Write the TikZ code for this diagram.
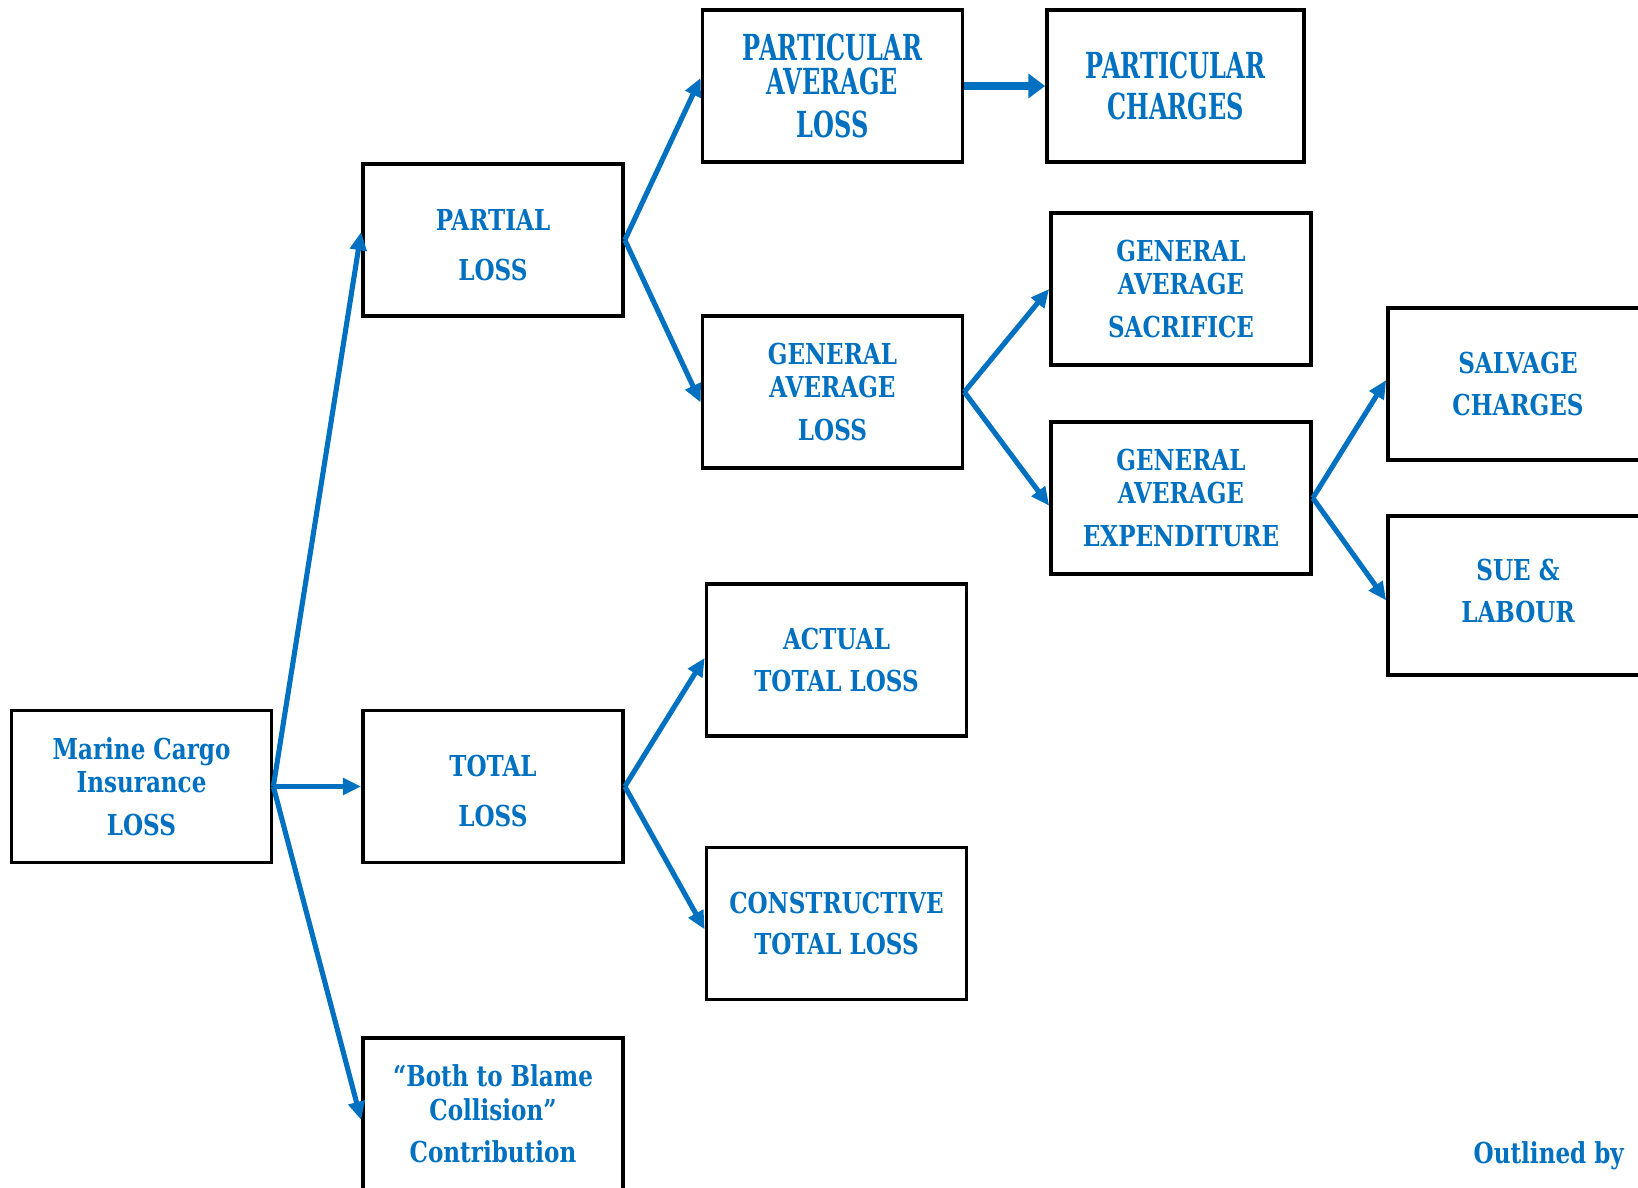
\documentclass[tikz,border=0pt]{standalone}
\usepackage{fontspec}
\setmainfont{DejaVu Serif}[FakeStretch=0.8]
\newfontfamily\tallfont{DejaVu Serif}[FakeStretch=0.67]
\usetikzlibrary{arrows.meta}
\definecolor{lossblue}{RGB}{0,112,192}

\tikzset{
	lossbox/.style={draw=black, line width=1pt, minimum width=2.6cm, minimum height=1.52cm,
		inner sep=0pt, align=center, text=lossblue, font=\bfseries\fontsize{8.2}{9.5}\selectfont},
	tallbox/.style={lossbox, font=\tallfont\bfseries\fontsize{10.2}{9.5}\selectfont},
	lossarrow/.style={draw=lossblue, line width=1.45pt, -{Triangle[length=5.2pt,width=4.6pt]}},
}

\begin{document}
\begin{tikzpicture}[x=0.01cm, y=-0.01cm]
		\useasboundingbox (0,0) rectangle (1638,1188);
		
		% root
		\node[lossbox] (marine) at (141.5,786.5) {Marine Cargo\\Insurance\\[2.7pt]LOSS};
		
		% first level
		\node[lossbox] (partial) at (493,240) {\rule{0pt}{8.7pt}PARTIAL\\[4.7pt]LOSS};
		\node[lossbox] (total) at (493,786.5) {\rule{0pt}{8.7pt}TOTAL\\[4.7pt]LOSS};
		\node[lossbox] (blame) at (493,1114) {“Both to Blame\\Collision”\\[2.7pt]Contribution};
		
		% partial loss branch
		\node[tallbox] (pal) at (832.5,86) {PARTICULAR\\AVERAGE\\[2.7pt]LOSS};
		\node[tallbox, minimum width=2.57cm] (pc) at (1175.5,86) {PARTICULAR\\[2.4pt]CHARGES};
		\node[lossbox] (gal) at (832.5,392) {GENERAL\\AVERAGE\\[2.7pt]LOSS};
		\node[lossbox] (gas) at (1181,289) {GENERAL\\AVERAGE\\[2.7pt]SACRIFICE};
		\node[lossbox] (gae) at (1181,498) {GENERAL\\AVERAGE\\[2.7pt]EXPENDITURE};
		\node[lossbox] (salvage) at (1518,384) {SALVAGE\\[2.4pt]CHARGES};
		\node[lossbox, minimum height=1.59cm] (sue) at (1518,595.5) {SUE \&\\[2.4pt]LABOUR\rule[-2.8pt]{0pt}{2.8pt}};
		
		% total loss branch
		\node[lossbox] (atl) at (836.5,660) {ACTUAL\\[2.4pt]TOTAL LOSS};
		\node[lossbox] (ctl) at (836.5,923.5) {CONSTRUCTIVE\\[2.4pt]TOTAL LOSS};
		
		% connectors (last value: where the tip meets the box side)
		\foreach \a/\b/\d in {marine/partial/2.3pt, marine/total/0pt, marine/blame/-1.7pt,
			partial/pal/2.3pt, partial/gal/-3pt, gal/gas/0pt, gal/gae/-2.2pt,
			gae/salvage/1.1pt, gae/sue/-1.4pt, total/atl/0.6pt, total/ctl/-1.7pt}{
		    \draw[lossarrow] (\a.east) -- ([yshift=\d]\b.west);
		}
		\draw[lossarrow, line width=2.2pt, -{Triangle[length=4.8pt,width=6.8pt]}] (pal.east) -- (pc.west);
		
		% footer
		\node[anchor=base west, inner sep=0pt, text=lossblue, font=\bfseries\fontsize{8.2}{9.5}\selectfont]
		    (outline) at (1473,1163) {Outlined by};
	\end{tikzpicture}
\end{document}
